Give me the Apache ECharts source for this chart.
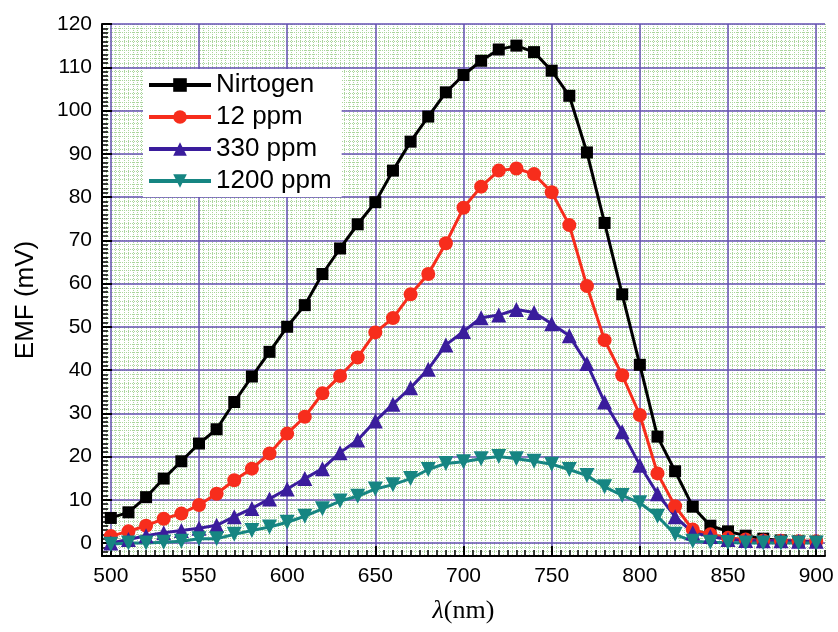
<!DOCTYPE html>
<html>
<head>
<meta charset="utf-8">
<script src="https://cdn.jsdelivr.net/npm/echarts@6/dist/echarts.min.js"></script>
<style>
  html, body { margin: 0; padding: 0; background: #fff; }
  #chart { width: 838px; height: 632px; }
</style>
</head>
<body>
<div id="chart"></div>
<script>
// wavelength (nm)
var wavelength = [500, 510, 520, 530, 540, 550, 560, 570, 580, 590,
  600, 610, 620, 630, 640, 650, 660, 670, 680, 690,
  700, 710, 720, 730, 740, 750, 760, 770, 780, 790,
  800, 810, 820, 830, 840, 850, 860, 870, 880, 890, 900];

// EMF (mV)
var nitrogen = [5.8, 7.1, 10.6, 14.9, 18.9, 23.0, 26.3, 32.6, 38.5, 44.2,
  50.0, 55.0, 62.2, 68.1, 73.7, 78.8, 86.1, 92.8, 98.6, 104.2,
  108.2, 111.5, 114.1, 115.0, 113.5, 109.2, 103.4, 90.3, 74.0, 57.5,
  41.2, 24.6, 16.6, 8.4, 4.0, 2.7, 1.7, 1.0, 0.6, 0.4, 0.3];
var ppm12 = [1.6, 2.7, 4.0, 5.6, 6.8, 8.8, 11.4, 14.5, 17.2, 20.7,
  25.3, 29.2, 34.6, 38.6, 42.9, 48.7, 52.0, 57.5, 62.2, 69.3,
  77.5, 82.4, 86.1, 86.6, 85.3, 81.1, 73.5, 59.4, 46.9, 38.8,
  29.6, 16.1, 8.5, 3.1, 2.0, 1.2, 0.8, 0.6, 0.5, 0.4, 0.4];
var ppm330 = [0, 0.8, 1.7, 2.4, 2.9, 3.4, 4.1, 6.1, 8.0, 10.2,
  12.5, 14.9, 17.2, 20.9, 23.8, 28.2, 32.1, 35.9, 40.2, 45.8,
  48.9, 52.1, 52.7, 54.0, 53.3, 50.7, 47.9, 41.5, 32.6, 25.7,
  18.0, 11.4, 6.1, 2.4, 1.5, 0.8, 0.6, 0.5, 0.5, 0.4, 0.4];
var ppm1200 = [-0.3, 0, 0, 0.2, 0.4, 1.0, 1.0, 2.0, 2.9, 3.7,
  4.8, 6.2, 7.9, 9.7, 10.8, 12.5, 13.5, 14.9, 17.0, 18.4,
  18.8, 19.5, 20.0, 19.5, 18.9, 18.2, 17.0, 15.6, 13.0, 11.0,
  9.3, 6.2, 2.0, 0.4, 0.2, 0.1, 0, 0, 0, 0, 0];

var xTicks = [500, 550, 600, 650, 700, 750, 800, 850, 900];
var yTicks = [0, 10, 20, 30, 40, 50, 60, 70, 80, 90, 100, 110, 120];

var font = 'Liberation Sans, Arial, sans-serif';
var serif = 'Liberation Serif, Times New Roman, serif';
var majorGrid = '#6650b4';
var minorGrid = '#aad59c';

function pairs(ys) {
  var out = [];
  for (var i = 0; i < wavelength.length; i++) {
    out.push([wavelength[i], ys[i]]);
  }
  return out;
}

function lineSeries(name, ys, color, symbol, size, rotate) {
  return {
    name: name,
    type: 'line',
    xAxisIndex: 0,
    yAxisIndex: 0,
    data: pairs(ys),
    symbol: symbol,
    symbolSize: size,
    symbolRotate: rotate || 0,
    showAllSymbol: true,
    clip: false,
    color: color,
    lineStyle: { width: 3, color: color },
    itemStyle: { color: color },
    z: 3
  };
}

var chart = echarts.init(document.getElementById('chart'));
chart.setOption({
  animation: false,
  backgroundColor: '#fff',
  grid: { left: 102, right: 13, top: 24, bottom: 76 },
  legend: {
    orient: 'vertical',
    left: 143,
    top: 69,
    backgroundColor: '#fff',
    padding: [3, 10, 3, 4],
    itemWidth: 62,
    itemHeight: 17,
    itemGap: 6,
    lineStyle: { width: 4 },
    textStyle: { fontSize: 26, color: '#000', fontFamily: font },
    data: ['Nirtogen', '12 ppm', '330 ppm', '1200 ppm']
  },
  xAxis: [
    {
      // major
      type: 'value',
      min: 495,
      max: 905,
      position: 'bottom',
      z: 2,
      name: '{i|λ}(nm)',
      nameLocation: 'middle',
      nameGap: 42,
      nameTextStyle: {
        fontSize: 26, color: '#000', fontFamily: serif,
        rich: { i: { fontStyle: 'italic', fontSize: 26, fontFamily: serif } }
      },
      axisLine: { show: true, onZero: false, lineStyle: { color: '#000', width: 2 } },
      axisTick: { show: true, inside: true, length: 10, customValues: xTicks, lineStyle: { color: '#000', width: 2 } },
      axisLabel: { show: true, customValues: xTicks, margin: 10, fontSize: 21, color: '#000', fontFamily: font },
      splitLine: { show: true, lineStyle: { color: majorGrid, width: 1.5 } }
    },
    {
      // minor
      type: 'value',
      min: 495,
      max: 905,
      interval: 5,
      position: 'bottom',
      z: 1,
      axisLine: { show: false, onZero: false },
      axisTick: { show: true, inside: true, length: 6, lineStyle: { color: '#000', width: 1.5 } },
      axisLabel: { show: false },
      splitLine: { show: true, lineStyle: { color: minorGrid, width: 1, type: [1, 1] } },
      minorTick: { show: false, splitNumber: 2 },
      minorSplitLine: { show: true, lineStyle: { color: minorGrid, width: 1, type: [1, 1] } }
    }
  ],
  yAxis: [
    {
      type: 'value',
      min: -3,
      max: 120,
      position: 'left',
      z: 2,
      name: 'EMF (mV)',
      nameLocation: 'middle',
      nameGap: 63,
      nameTextStyle: { fontSize: 26, color: '#000', fontFamily: font, padding: [0, 20, 0, 0] },
      axisLine: { show: true, onZero: false, lineStyle: { color: '#000', width: 2 } },
      axisTick: { show: true, inside: true, length: 10, customValues: yTicks, lineStyle: { color: '#000', width: 2 } },
      axisLabel: { show: true, customValues: yTicks, margin: 10, fontSize: 21, color: '#000', fontFamily: font },
      splitLine: { show: true, lineStyle: { color: majorGrid, width: 1.5 } }
    },
    {
      type: 'value',
      min: -3,
      max: 120,
      interval: 1,
      position: 'left',
      z: 1,
      axisLine: { show: false, onZero: false },
      axisTick: { show: true, inside: true, length: 6, lineStyle: { color: '#000', width: 1.5 } },
      axisLabel: { show: false },
      splitLine: { show: true, lineStyle: { color: minorGrid, width: 1, type: [1, 1] } }
    }
  ],
  series: [
    lineSeries('Nirtogen', nitrogen, '#000000', 'rect', 12),
    lineSeries('12 ppm', ppm12, '#f72d1c', 'circle', 14),
    lineSeries('330 ppm', ppm330, '#3a1d9c', 'triangle', 15),
    lineSeries('1200 ppm', ppm1200, '#168582', 'triangle', 15, 180)
  ]
});
</script>
</body>
</html>
